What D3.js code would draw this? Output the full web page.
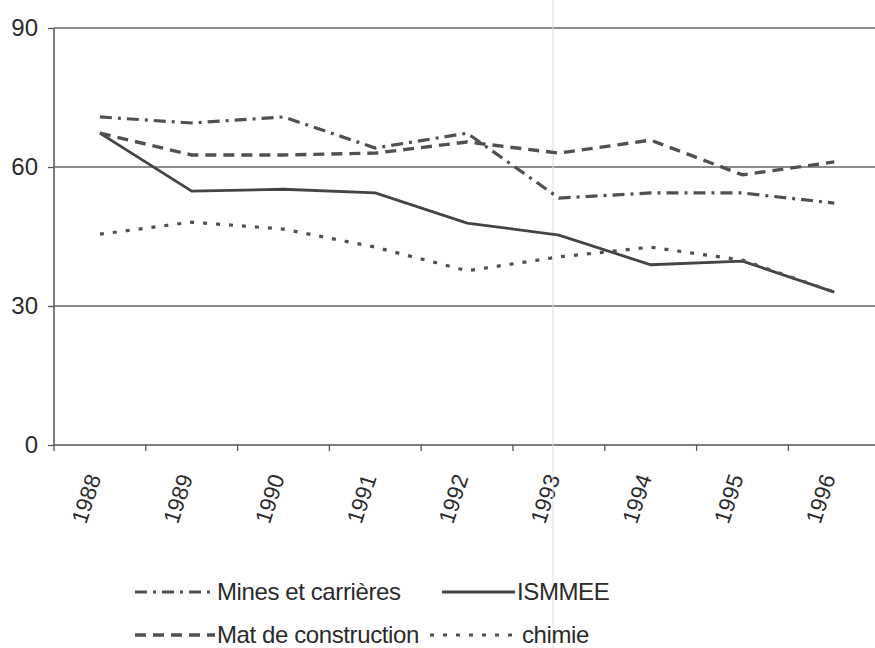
<!DOCTYPE html>
<html><head><meta charset="utf-8">
<script src="https://cdn.jsdelivr.net/npm/d3@7/dist/d3.min.js"></script>
<style>
body{margin:0;background:#fff;}
svg{display:block;font-family:"Liberation Sans",Arial,sans-serif;}
</style></head>
<body>
<svg id="c" width="875" height="648"></svg>
<script>
const years = ["1988","1989","1990","1991","1992","1993","1994","1995","1996"];
const mines = [70.8, 69.5, 70.8, 64.1, 67.3, 53.3, 54.4, 54.4, 52.2];
const ismmee = [67.3, 54.8, 55.2, 54.4, 47.9, 45.3, 38.9, 39.7, 33.0];
const matConstruction = [67.3, 62.6, 62.6, 63.0, 65.4, 63.0, 65.8, 58.3, 61.1];
const chimie = [45.5, 48.1, 46.6, 42.7, 37.6, 40.6, 42.7, 39.9, 33.0];
const yTicks = [0, 30, 60, 90];
const seriesNames = ["Mines et carrières", "ISMMEE", "Mat de construction", "chimie"];

const svg = d3.select("#c");
const plotLeft = 54, plotTop = 28, plotBottom = 445, bandW = 91.8;
const x = d3.scaleBand().domain(years).range([plotLeft, plotLeft + years.length * bandW]).padding(0);
const y = d3.scaleLinear().domain([0, 90]).range([plotBottom, plotTop]);
const cx = d => x(d) + x.bandwidth() / 2;

const textCol = "#2b2b2b";
const axisCol = "#555";

// y axis ticks + labels
const gy = svg.append("g").attr("transform", `translate(${plotLeft},0)`)
  .call(d3.axisLeft(y).tickValues(yTicks).tickSize(6).tickPadding(10).tickFormat(d3.format("d")));
gy.select(".domain").remove();
gy.selectAll(".tick line").attr("stroke", axisCol).attr("stroke-width", 1.3);
gy.selectAll(".tick text").attr("fill", textCol).style("font-size", "24px");
// gridlines
svg.append("g").selectAll("line").data(yTicks.filter(v => v > 0)).join("line")
  .attr("x1", plotLeft).attr("x2", 875).attr("y1", d => y(d)).attr("y2", d => y(d))
  .attr("stroke", "#666").attr("stroke-width", 1.3);
svg.append("line").attr("x1", plotLeft).attr("x2", plotLeft).attr("y1", y(90)).attr("y2", y(0))
  .attr("stroke", axisCol).attr("stroke-width", 1.5);

// x axis
const gx = svg.append("g").attr("transform", `translate(0,${plotBottom})`)
  .call(d3.axisBottom(x).tickSize(0).tickPadding(0));
gx.select(".domain").remove();
gx.selectAll(".tick text").attr("fill", textCol).style("font-size", "22.5px")
  .attr("text-anchor", "end").attr("dy", "0.35em")
  .attr("transform", "translate(-6,30) rotate(-72)");
svg.append("line").attr("x1", plotLeft).attr("x2", 875).attr("y1", plotBottom).attr("y2", plotBottom)
  .attr("stroke", axisCol).attr("stroke-width", 1.5);
svg.append("g").selectAll("line").data(years).join("line")
  .attr("x1", d => x(d)).attr("x2", d => x(d)).attr("y1", plotBottom).attr("y2", plotBottom + 6)
  .attr("stroke", axisCol).attr("stroke-width", 1.3);

// scan artifact vertical line
svg.append("line").attr("x1", 553).attr("x2", 553).attr("y1", 0).attr("y2", 648)
  .attr("stroke", "#ddd").attr("stroke-width", 1);

const styles = [
  {name: seriesNames[0], data: mines, dash: "12,6,3,6", w: 3.2, col: "#505050"},
  {name: seriesNames[1], data: ismmee, dash: null, w: 2.8, col: "#444"},
  {name: seriesNames[2], data: matConstruction, dash: "11,7", w: 3.4, col: "#505050"},
  {name: seriesNames[3], data: chimie, dash: "4,9", w: 3.2, col: "#505050"}
];
const line = d3.line().x((v, i) => cx(years[i])).y(v => y(v));
svg.append("g").selectAll("path").data(styles).join("path")
  .attr("d", s => line(s.data)).attr("fill", "none")
  .attr("stroke", s => s.col).attr("stroke-width", s => s.w)
  .attr("stroke-dasharray", s => s.dash);

// legend
const legPos = [
  {x1: 135, x2: 215, tx: 217, ty: 592},
  {x1: 442, x2: 515, tx: 517, ty: 592},
  {x1: 135, x2: 215, tx: 217, ty: 635},
  {x1: 430, x2: 518, tx: 522, ty: 635}
];
const leg = svg.append("g");
styles.forEach((s, i) => {
  const p = legPos[i];
  leg.append("line").attr("x1", p.x1).attr("x2", p.x2).attr("y1", p.ty).attr("y2", p.ty)
    .attr("stroke", s.col).attr("stroke-width", s.w).attr("stroke-dasharray", s.dash);
  leg.append("text").attr("x", p.tx).attr("y", p.ty).attr("dy", "0.35em")
    .attr("fill", textCol).style("font-size", "24px").style("letter-spacing", "-0.4px")
    .text(s.name);
});
</script>
</body></html>
